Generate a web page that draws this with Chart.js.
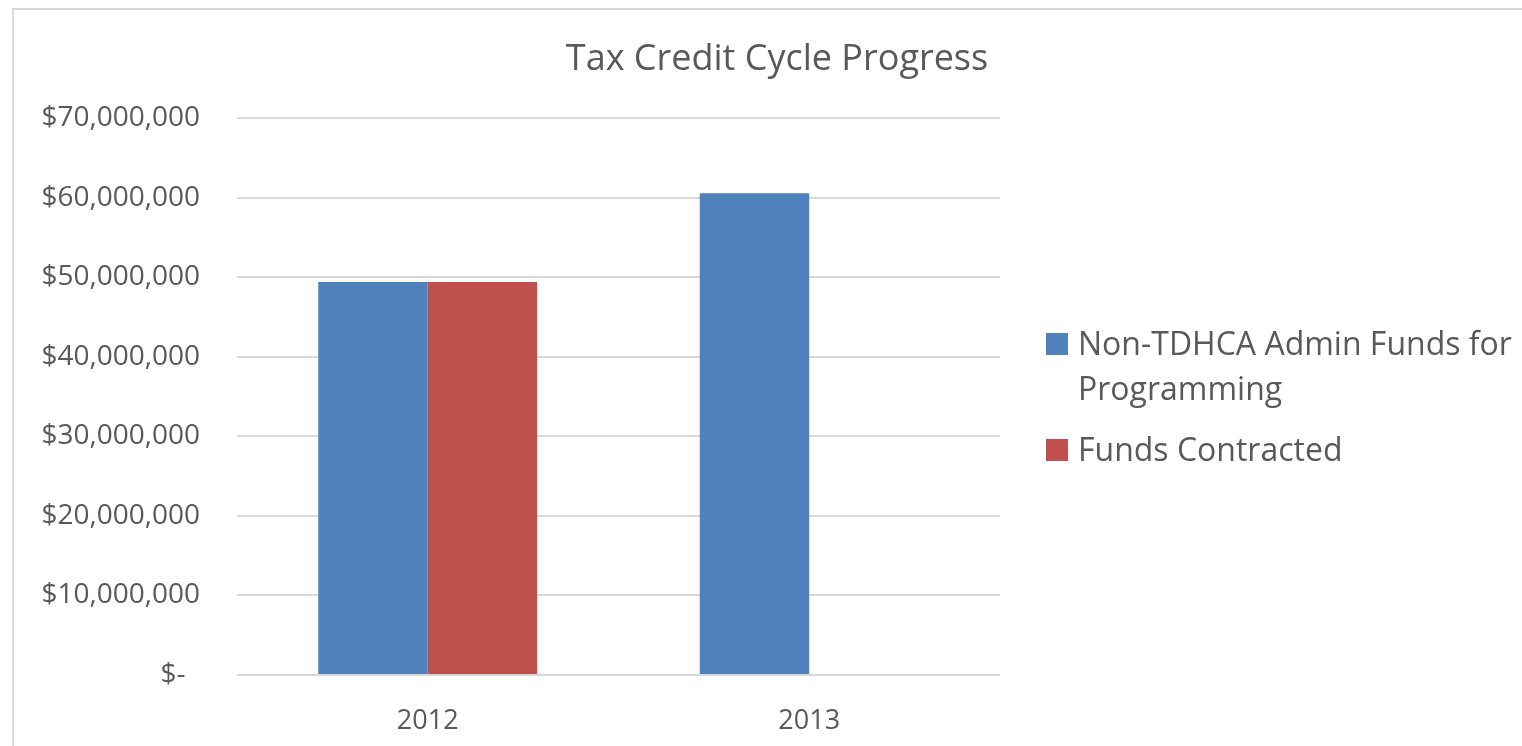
<!DOCTYPE html>
<html>
<head>
<meta charset="utf-8">
<script src="https://cdn.jsdelivr.net/npm/chart.js@4"></script>
<style>
  html, body { margin: 0; padding: 0; background: #fff; overflow: hidden; }
  body { width: 1522px; height: 746px; position: relative; }
  /* outer chart frame (runs off the right/bottom edge) */
  .frame {
    position: absolute; left: 12px; top: 8px; width: 1560px; height: 760px;
    border: 2px solid #d9d9d9; box-sizing: border-box;
  }
  #wrap { position: absolute; left: 0; top: 0; width: 1554px; height: 746px; }
  .legend { position: absolute; left: 1046px; top: 320px; font-family: 'Open Sans', sans-serif; font-size: 32px; color: #595959; line-height: 45px; white-space: nowrap; }
  .legend .item { position: relative; padding-left: 32px; }
  .legend .box { position: absolute; left: 0; top: 13px; width: 22px; height: 22px; }
  .legend .item + .item { margin-top: 16px; }
</style>
</head>
<body>
<div class="frame"></div>
<div id="wrap"><canvas id="cycleChart"></canvas></div>
<div class="legend" id="legend"></div>

<script>
// ข้อมูลกราฟ
const years = ['2012', '2013'];
const adminFunds = [49400000, 60550000];
const fundsContracted = [49400000, null];
const seriesNames = [['Non-TDHCA Admin Funds for', 'Programming'], ['Funds Contracted']];
const seriesColors = ['#4f81bd', '#c0504d'];
const chartTitle = 'Tax Credit Cycle Progress';

const textColor = '#595959';
const fontFamily = "'Open Sans', sans-serif";

// ฟังก์ชันแสดงค่าเงินแบบ accounting
function formatMoney(value) {
    if (value === 0) return '$-  ';
    return '$' + value.toLocaleString('en-US');
}

const ctx = document.getElementById('cycleChart').getContext('2d');

new Chart(ctx, {
    type: 'bar',
    data: {
        labels: years,
        datasets: [
            {
                label: seriesNames[0].join(' '),
                data: adminFunds,
                backgroundColor: seriesColors[0],
                borderWidth: 0
            },
            {
                label: seriesNames[1].join(' '),
                data: fundsContracted,
                backgroundColor: seriesColors[1],
                borderWidth: 0
            }
        ]
    },
    options: {
        responsive: true,
        maintainAspectRatio: false,
        animation: false,
        categoryPercentage: 0.574,
        barPercentage: 1,
        layout: {
            padding: 0
        },
        plugins: {
            legend: { display: false },
            tooltip: { enabled: false },
            title: {
                display: true,
                text: chartTitle,
                color: textColor,
                font: { size: 36, family: fontFamily, weight: 'normal' },
                padding: { top: 38, bottom: 37 }
            }
        },
        scales: {
            x: {
                grid: { display: false },
                border: { display: false },
                ticks: {
                    color: textColor,
                    font: { size: 27, family: fontFamily },
                    padding: 22,
                    maxRotation: 0
                },
                afterFit: function(scale) {
                    scale.height = 71;
                }
            },
            y: {
                min: 0,
                max: 70000000,
                grid: {
                    color: '#d9d9d9',
                    lineWidth: 2,
                    drawTicks: false
                },
                border: { display: false },
                ticks: {
                    stepSize: 10000000,
                    color: textColor,
                    font: { size: 28, family: fontFamily },
                    padding: 37,
                    callback: function(value) {
                        return formatMoney(value);
                    }
                },
                afterFit: function(scale) {
                    scale.width = 237;
                }
            },
            // แกนว่างด้านขวา เว้นที่ให้ legend
            legendSpace: {
                type: 'linear',
                position: 'right',
                display: true,
                grid: { display: false },
                border: { display: false },
                ticks: { display: false },
                afterFit: function(scale) {
                    scale.width = 554;
                }
            }
        }
    }
});

// สร้าง legend ด้านขวา
const legendEl = document.getElementById('legend');
seriesNames.forEach((lines, i) => {
    const item = document.createElement('div');
    item.className = 'item';
    const box = document.createElement('span');
    box.className = 'box';
    box.style.background = seriesColors[i];
    item.appendChild(box);
    lines.forEach(line => {
        const row = document.createElement('div');
        row.textContent = line;
        item.appendChild(row);
    });
    legendEl.appendChild(item);
});
</script>
</body>
</html>
